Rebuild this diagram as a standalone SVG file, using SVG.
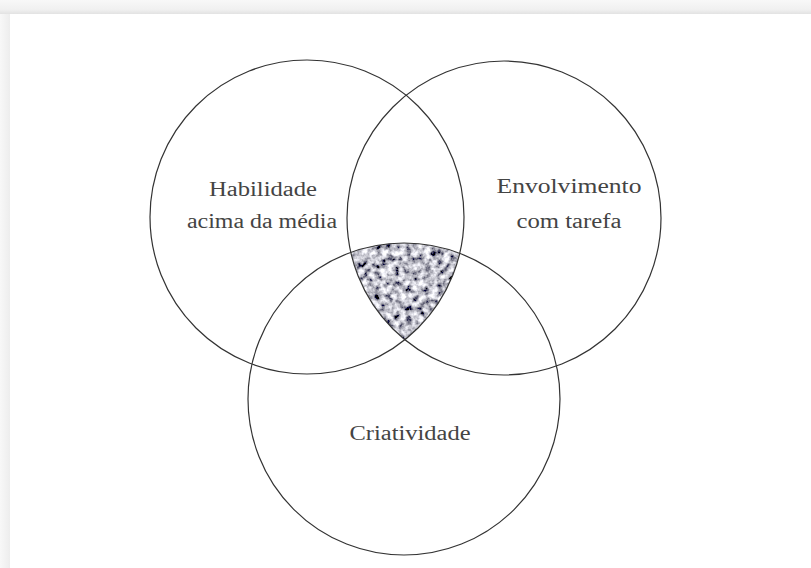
<svg xmlns="http://www.w3.org/2000/svg" width="811" height="568" viewBox="0 0 811 568">
  <defs>
    <linearGradient id="topShade" x1="0" y1="0" x2="0" y2="1">
      <stop offset="0" stop-color="#f8f8f8"/>
      <stop offset="0.7" stop-color="#f0f0f0"/>
      <stop offset="1" stop-color="#e2e2e2"/>
    </linearGradient>
    <linearGradient id="leftShade" x1="0" y1="0" x2="1" y2="0">
      <stop offset="0" stop-color="#f8f8f8"/>
      <stop offset="1" stop-color="#ededed"/>
    </linearGradient>
    <clipPath id="clipA"><circle cx="307" cy="217" r="157"/></clipPath>
    <clipPath id="clipB"><circle cx="504" cy="218" r="157"/></clipPath>
    <clipPath id="clipC"><circle cx="404" cy="399" r="156"/></clipPath>
    <filter id="tex" x="0" y="0" width="1" height="1" filterUnits="objectBoundingBox">
      <feTurbulence type="fractalNoise" baseFrequency="0.16" numOctaves="3" seed="7" result="n"/>
      <feColorMatrix in="n" type="matrix" values="2.1 0 0 0 -0.52  2.1 0 0 0 -0.52  2.1 0 0 0 -0.46  0 0 0 0 1"/>
    </filter>
    <style>
      .ring { fill: none; stroke: #333; stroke-width: 1.2; }
      .lbl { font-family: "Liberation Serif", "Times New Roman", serif; font-size: 20px; fill: #444; text-anchor: middle; }
    </style>
  </defs>

  <rect x="0" y="0" width="811" height="568" fill="#f6f6f6"/>
  <rect x="0" y="0" width="811" height="14" fill="url(#topShade)"/>
  <rect x="0" y="14" width="10" height="554" fill="url(#leftShade)"/>
  <rect x="10" y="14" width="801" height="554" fill="#ffffff"/>

  <g id="shaded-intersection" clip-path="url(#clipA)">
    <g clip-path="url(#clipB)">
      <g clip-path="url(#clipC)">
        <rect x="340" y="240" width="130" height="105" fill="#8a8a96" filter="url(#tex)"/>
      </g>
    </g>
  </g>

  <g id="habilidade">
    <circle class="ring" cx="307" cy="217" r="157"/>
    <text class="lbl" x="263" y="196" textLength="108" lengthAdjust="spacingAndGlyphs">Habilidade</text>
    <text class="lbl" x="262" y="228" textLength="150" lengthAdjust="spacingAndGlyphs">acima da média</text>
  </g>

  <g id="envolvimento">
    <circle class="ring" cx="504" cy="218" r="157"/>
    <text class="lbl" x="569" y="193" textLength="145" lengthAdjust="spacingAndGlyphs">Envolvimento</text>
    <text class="lbl" x="569" y="228" textLength="105" lengthAdjust="spacingAndGlyphs">com tarefa</text>
  </g>

  <g id="criatividade">
    <circle class="ring" cx="404" cy="399" r="156"/>
    <text class="lbl" x="410" y="440" textLength="121" lengthAdjust="spacingAndGlyphs">Criatividade</text>
  </g>

  <g id="connectors"/>
</svg>
